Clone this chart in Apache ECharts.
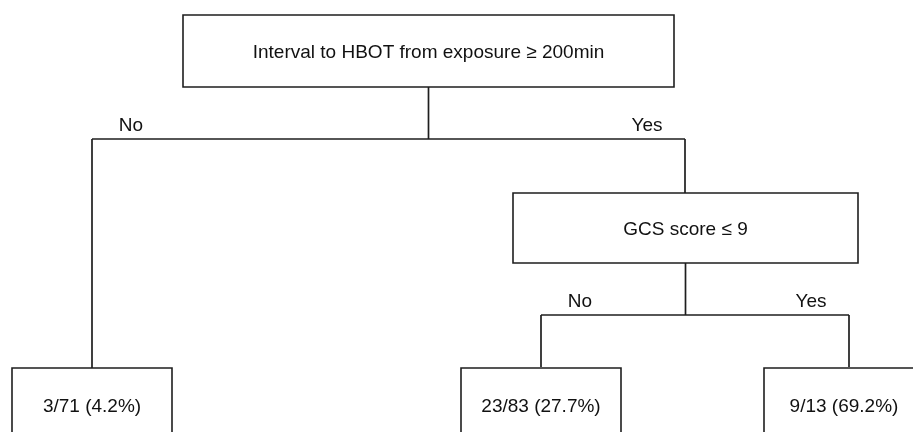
<!DOCTYPE html>
<html>
<head>
<meta charset="utf-8">
<script src="https://cdn.jsdelivr.net/npm/echarts@6/dist/echarts.min.js"></script>
<style>
  html, body { margin: 0; padding: 0; background: #fff; }
  #chart { width: 913px; height: 432px; }
</style>
</head>
<body>
<div id="chart"></div>
<script>
// split questions and branch answers
const splitLabels = ['Interval to HBOT from exposure \u2265 200min', 'GCS score \u2264 9'];
const branchLabels = ['No', 'Yes'];
// leaves: events / total (percent)
const leafEvents = [3, 23, 9];
const leafTotals = [71, 83, 13];
const leafPercents = [4.2, 27.7, 69.2];

// layout in pixel units of the hidden axes (x, y = box centre)
const splitBoxes = [
  { x: 428.5, y: 51, w: 491, h: 72 },
  { x: 685.5, y: 228, w: 345, h: 70 }
];
const leafBoxes = [
  { x: 92, y: 405, w: 160, h: 74 },
  { x: 541, y: 405, w: 160, h: 74 },
  { x: 844, y: 405, w: 160, h: 74 }
];
// each split: bar y, left / right x, top of left / right child
const splitJoins = [
  { bar: 139, left: 92, right: 685, leftTop: 368, rightTop: 193 },
  { bar: 315, left: 541, right: 849, leftTop: 367, rightTop: 367 }
];

const FONT = '"Liberation Sans", Arial, Helvetica, sans-serif';
const LINE = '#1e1e1e';
const TEXT_SHIFT = 2; // glyph middle sits a bit lower than the em box middle

const boxData = splitBoxes.map((b, i) => [b.x, b.y, b.w, b.h, splitLabels[i]])
  .concat(leafBoxes.map((b, i) =>
    [b.x, b.y, b.w, b.h, leafEvents[i] + '/' + leafTotals[i] + ' (' + leafPercents[i].toFixed(1) + '%)']));

const edgeData = [];
const branchData = [];
splitJoins.forEach((j, i) => {
  const b = splitBoxes[i];
  edgeData.push([b.x, b.y + b.h / 2, b.x, j.bar]);
  edgeData.push([j.left, j.bar, j.right, j.bar]);
  edgeData.push([j.left, j.bar, j.left, j.leftTop]);
  edgeData.push([j.right, j.bar, j.right, j.rightTop]);
  branchData.push([j.left + 39, j.bar - 15, branchLabels[0]]);
  branchData.push([j.right - 38, j.bar - 15, branchLabels[1]]);
});

const chart = echarts.init(document.getElementById('chart'), null, { renderer: 'canvas' });

chart.setOption({
  animation: false,
  grid: { left: 0, right: 0, top: 0, bottom: 0 },
  xAxis: { type: 'value', min: 0, max: 913, show: false },
  yAxis: { type: 'value', min: 0, max: 432, inverse: true, show: false },
  series: [
    {
      type: 'custom',
      name: 'edges',
      clip: false,
      data: edgeData,
      renderItem: (params, api) => {
        const p1 = api.coord([api.value(0), api.value(1)]);
        const p2 = api.coord([api.value(2), api.value(3)]);
        return {
          type: 'line',
          shape: { x1: p1[0], y1: p1[1], x2: p2[0], y2: p2[1] },
          style: { stroke: LINE, lineWidth: 1.7 }
        };
      }
    },
    {
      type: 'custom',
      name: 'boxes',
      clip: false,
      data: boxData,
      renderItem: (params, api) => {
        const c = api.coord([api.value(0), api.value(1)]);
        const s = api.size([api.value(2), api.value(3)]);
        const text = boxData[params.dataIndex][4];
        return {
          type: 'group',
          children: [
            {
              type: 'rect',
              shape: { x: c[0] - s[0] / 2, y: c[1] - s[1] / 2, width: s[0], height: s[1] },
              style: { fill: '#fff', stroke: LINE, lineWidth: 1.6 }
            },
            {
              type: 'text',
              style: {
                text: text, x: c[0], y: c[1] + TEXT_SHIFT, align: 'center', verticalAlign: 'middle',
                fontSize: 19, fontFamily: FONT, fill: '#111'
              }
            }
          ]
        };
      }
    },
    {
      type: 'custom',
      name: 'branches',
      clip: false,
      data: branchData,
      renderItem: (params, api) => {
        const c = api.coord([api.value(0), api.value(1)]);
        return {
          type: 'text',
          style: {
            text: branchData[params.dataIndex][2], x: c[0], y: c[1] + TEXT_SHIFT,
            align: 'center', verticalAlign: 'middle',
            fontSize: 19, fontFamily: FONT, fill: '#111'
          }
        };
      }
    }
  ]
});
</script>
</body>
</html>
